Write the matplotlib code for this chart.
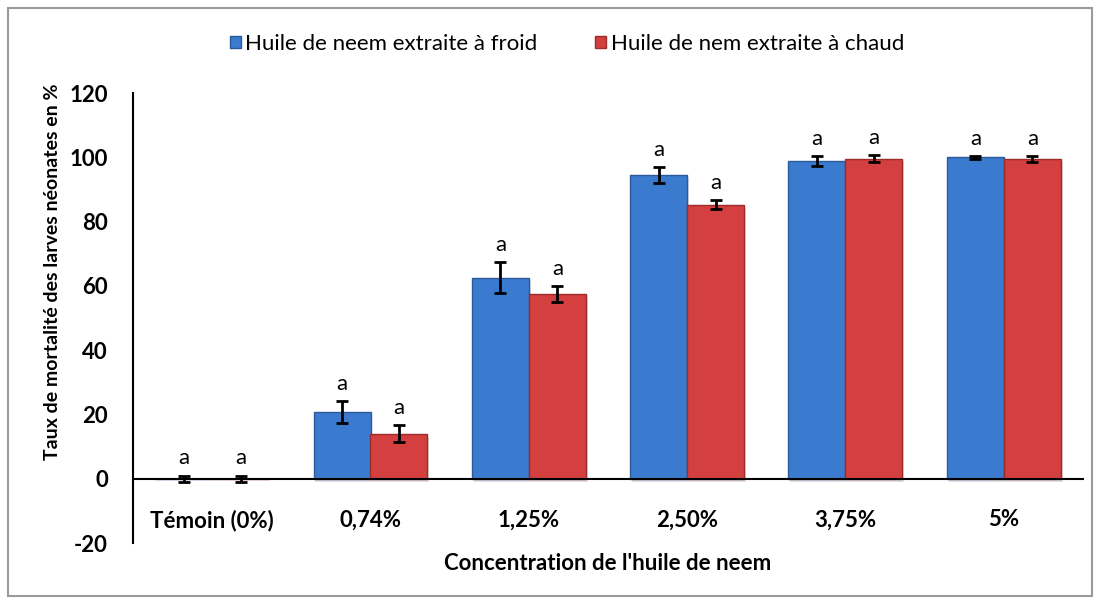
import matplotlib
matplotlib.use("Agg")
import matplotlib.pyplot as plt
import numpy as np
from matplotlib.patches import Rectangle

categories = ["Témoin (0%)", "0,74%", "1,25%", "2,50%", "3,75%", "5%"]
series_names = ["Huile de neem extraite à froid", "Huile de nem extraite à chaud"]
cold_values = [0.0, 20.8, 62.5, 94.5, 98.8, 100.0]
cold_err = [1.0, 3.5, 4.8, 2.5, 1.5, 0.4]
hot_values = [0.0, 14.0, 57.5, 85.2, 99.6, 99.5]
hot_err = [1.0, 2.6, 2.4, 1.4, 1.0, 1.0]
letters_cold = ["a", "a", "a", "a", "a", "a"]
letters_hot = ["a", "a", "a", "a", "a", "a"]
yticks = [-20, 0, 20, 40, 60, 80, 100, 120]

plt.rcParams['font.family'] = ['Lato', 'DejaVu Sans']

fig = plt.figure(figsize=(11, 6.01), dpi=100)
fig.patch.set_facecolor('white')
# outer frame
fig.add_artist(Rectangle((8/1100, 1-596/601), (1092-8)/1100, (596-8)/601,
                         transform=fig.transFigure, fill=False,
                         edgecolor='#9a9a9a', linewidth=1.5))

ax = fig.add_axes([133/1100, 1-543/601, (1083-133)/1100, (543-93)/601])
ax.spines['bottom'].set_position(('data', 0))
ax.spines['top'].set_visible(False)
ax.spines['right'].set_visible(False)
ax.spines['left'].set_linewidth(1.5)
ax.spines['bottom'].set_linewidth(1.5)

x = np.arange(len(categories))
w = 0.36

cols = [("#3b7bcf", "#2a5a98"), ("#d43f3f", "#9c2c2c")]
for i, (vals, errs, letters) in enumerate([(cold_values, cold_err, letters_cold),
                                           (hot_values, hot_err, letters_hot)]):
    pos = x + (i - 0.5) * w
    face, edge = cols[i]
    # shadow
    ax.bar(pos + 0.012, vals, w, bottom=-0.9, color='#000000', alpha=0.12, zorder=1)
    ax.bar(pos, vals, w, color=face, edgecolor=edge, linewidth=1.0, zorder=2,
           label=series_names[i])
    ax.errorbar(pos, vals, yerr=errs, fmt='none', ecolor='black', elinewidth=2,
                capsize=4.5, capthick=2, zorder=4)
    for p, v, e, t in zip(pos, vals, errs, letters):
        ax.text(p, v + e + 2.2, t, ha='center', va='bottom', fontsize=16, zorder=5)

ax.set_xlim(-0.5, len(categories) - 0.5)
ax.set_ylim(-20, 120)
ax.set_yticks(yticks)
ax.set_yticklabels([str(t) for t in yticks], fontsize=16, fontweight='bold')
ax.set_xticks(x)
ax.set_xticklabels(categories, fontsize=16, fontweight='bold')
ax.tick_params(axis='y', length=0, pad=18)
ax.tick_params(axis='x', length=0, pad=22)

ax.set_ylabel("Taux de mortalité des larves néonates en %", fontsize=14,
              fontweight='bold')
ax.yaxis.set_label_coords((61-133)/950, (543-272)/450)
fig.text(608/1100, 1-563/601, "Concentration de l'huile de neem", ha='center',
         va='center', fontsize=16, fontweight='bold')

handles, labels = ax.get_legend_handles_labels()
fig.legend(handles[:2], labels[:2], loc='center', bbox_to_anchor=(567/1100, 1-44/601),
           ncol=2, frameon=False, fontsize=16, handlelength=0.5, handleheight=0.5,
           handletextpad=0.2, columnspacing=2.6)

fig.savefig("out.png", dpi=100)
